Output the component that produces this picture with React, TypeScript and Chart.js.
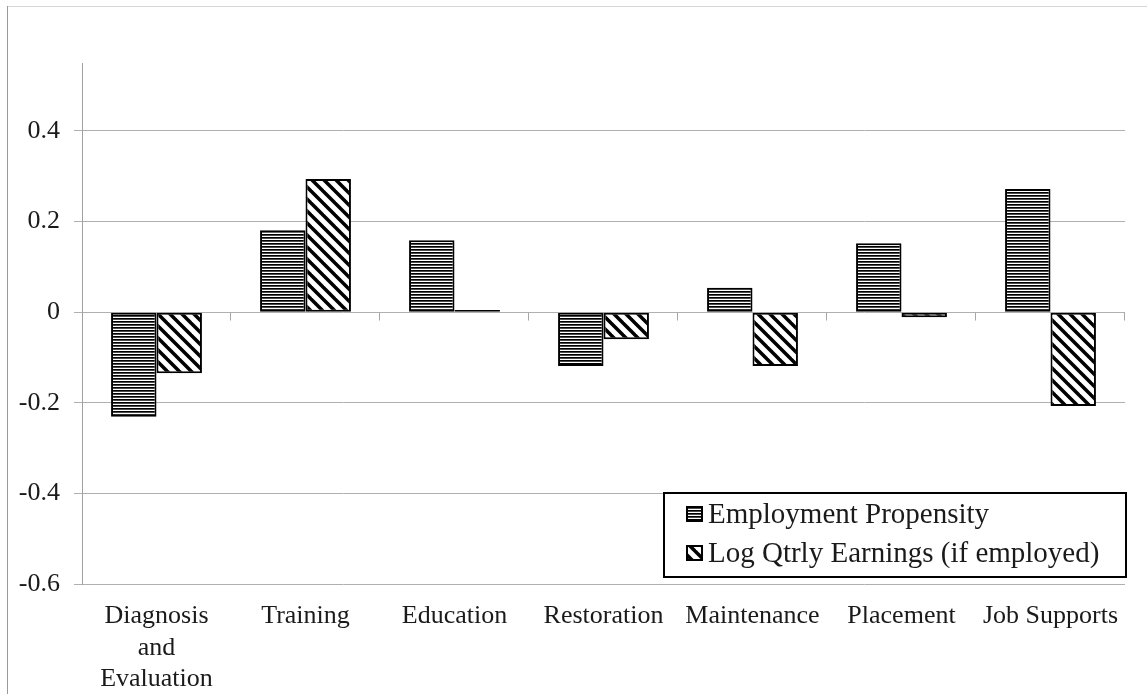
import React, { useEffect, useRef } from "react";
import { Chart, registerables } from "chart.js";

Chart.register(...registerables);

const categories: (string | string[])[] = [
  ["Diagnosis", "and", "Evaluation"],
  "Training",
  "Education",
  "Restoration",
  "Maintenance",
  "Placement",
  "Job Supports",
];
const seriesNames = ["Employment Propensity", "Log Qtrly Earnings (if employed)"];
const employment = [-0.231, 0.181, 0.159, -0.119, 0.054, 0.152, 0.272];
const earnings = [-0.135, 0.294, 0.005, -0.06, -0.119, -0.011, -0.207];
const yTickValues = [-0.6, -0.4, -0.2, 0, 0.2, 0.4];
const yMin = -0.6;
const yMax = 0.55;

const FONT = "'Times New Roman', 'Liberation Serif', serif";

function makeHorizontalPattern(ctx: CanvasRenderingContext2D) {
  const t = document.createElement("canvas");
  t.width = 4;
  t.height = 3;
  const c = t.getContext("2d")!;
  c.fillStyle = "#ffffff";
  c.fillRect(0, 0, 4, 3);
  c.fillStyle = "#000000";
  c.fillRect(0, 0, 4, 1);
  c.fillStyle = "#4a4a4a";
  c.fillRect(0, 1, 4, 1);
  return ctx.createPattern(t, "repeat")!;
}

function makeDiagonalPattern(ctx: CanvasRenderingContext2D) {
  const s = 12;
  const t = document.createElement("canvas");
  t.width = s;
  t.height = s;
  const c = t.getContext("2d")!;
  c.fillStyle = "#ffffff";
  c.fillRect(0, 0, s, s);
  c.strokeStyle = "#000000";
  c.lineWidth = 3.5;
  c.lineCap = "square";
  for (const k of [-s, 0, s]) {
    c.beginPath();
    c.moveTo(k - 2, -2);
    c.lineTo(k + s + 2, s + 2);
    c.stroke();
  }
  return ctx.createPattern(t, "repeat")!;
}

export default function App() {
  const ref = useRef<HTMLCanvasElement | null>(null);

  useEffect(() => {
    const canvas = ref.current!;
    const ctx = canvas.getContext("2d")!;
    const hPat = makeHorizontalPattern(ctx);
    const dPat = makeDiagonalPattern(ctx);

    const framePlugin = {
      id: "frame",
      beforeDraw(chart: any) {
        const c = chart.ctx;
        c.save();
        c.fillStyle = "#ffffff";
        c.fillRect(0, 0, chart.width, chart.height);
        c.strokeStyle = "#d6d6d6";
        c.lineWidth = 1;
        c.beginPath();
        c.moveTo(7, 6.5);
        c.lineTo(chart.width, 6.5);
        c.stroke();
        c.strokeStyle = "#9a9a9a";
        c.beginPath();
        c.moveTo(7.5, 6);
        c.lineTo(7.5, chart.height);
        c.stroke();
        c.restore();
      },
    };

    const zeroTicksPlugin = {
      id: "zeroTicks",
      beforeDatasetsDraw(chart: any) {
        const xs = chart.scales.x;
        const ys = chart.scales.y;
        const y0 = Math.round(ys.getPixelForValue(0)) + 0.5;
        const n = categories.length;
        const c = chart.ctx;
        c.save();
        c.strokeStyle = "#a6a6a6";
        c.lineWidth = 1;
        for (let i = 1; i <= n; i++) {
          const x = Math.round(xs.left + (i * (xs.right - xs.left)) / n) - 0.5;
          c.beginPath();
          c.moveTo(x, y0);
          c.lineTo(x, y0 + 8);
          c.stroke();
        }
        c.restore();
      },
    };

    const legendPlugin = {
      id: "customLegend",
      afterDraw(chart: any) {
        const c = chart.ctx;
        c.save();
        const bx = 664, by = 493, bw = 462, bh = 84;
        c.fillStyle = "#ffffff";
        c.fillRect(bx, by, bw, bh);
        c.strokeStyle = "#000000";
        c.lineWidth = 2;
        c.strokeRect(bx, by, bw, bh);
        const rows = [
          { y: 507, base: 523, pat: hPat },
          { y: 546, base: 562, pat: dPat },
        ];
        chart.data.datasets.forEach((ds: any, i: number) => {
          const r = rows[i];
          c.fillStyle = r.pat;
          c.fillRect(687, r.y, 15, 14);
          c.strokeStyle = "#000000";
          c.lineWidth = 2;
          c.strokeRect(687, r.y, 15, 14);
          c.fillStyle = "#1a1a1a";
          c.font = `29px ${FONT}`;
          c.textBaseline = "alphabetic";
          c.textAlign = "left";
          c.fillText(ds.label, 708, r.base);
        });
        c.restore();
      },
    };

    const chart = new Chart(canvas, {
      type: "bar",
      data: {
        labels: categories as any,
        datasets: [
          {
            label: seriesNames[0],
            data: employment,
            backgroundColor: hPat as any,
            borderColor: "#000000",
            borderWidth: 2,
            borderSkipped: false,
          },
          {
            label: seriesNames[1],
            data: earnings,
            backgroundColor: dPat as any,
            borderColor: "#000000",
            borderWidth: 2,
            borderSkipped: false,
          },
        ],
      },
      options: {
        responsive: false,
        animation: false,
        devicePixelRatio: 1,
        layout: { padding: { top: 63, right: 22, left: 0, bottom: 0 } },
        datasets: {
          bar: { barPercentage: 1, categoryPercentage: 0.61 },
        },
        plugins: {
          legend: { display: false },
          tooltip: { enabled: false },
        },
        scales: {
          x: {
            grid: { display: false, drawTicks: false },
            border: { display: false },
            ticks: {
              font: { family: FONT, size: 26, lineHeight: 1.2 },
              color: "#1a1a1a",
              padding: 17,
              maxRotation: 0,
              autoSkip: false,
            },
            afterFit(scale: any) {
              scale.height = 110;
            },
          },
          y: {
            min: yMin,
            max: yMax,
            afterBuildTicks(scale: any) {
              scale.ticks = yTickValues.map((v) => ({ value: v }));
            },
            afterFit(scale: any) {
              scale.width = 82;
            },
            grid: {
              color: "#b0b0b0",
              lineWidth: 1,
              tickLength: 8,
              drawTicks: true,
            },
            border: { display: true, color: "#a0a0a0", width: 1 },
            ticks: {
              font: { family: FONT, size: 26 },
              color: "#1a1a1a",
              padding: 14,
              callback: (v: any) => (Number(v) === 0 ? "0" : Number(v).toFixed(1)),
            },
          },
        },
      },
      plugins: [framePlugin, zeroTicksPlugin, legendPlugin],
    });

    return () => chart.destroy();
  }, []);

  return (
    <div style={{ position: "fixed", left: 0, top: 0, width: 1147, height: 694 }}>
      <canvas ref={ref} width={1147} height={694} />
    </div>
  );
}
